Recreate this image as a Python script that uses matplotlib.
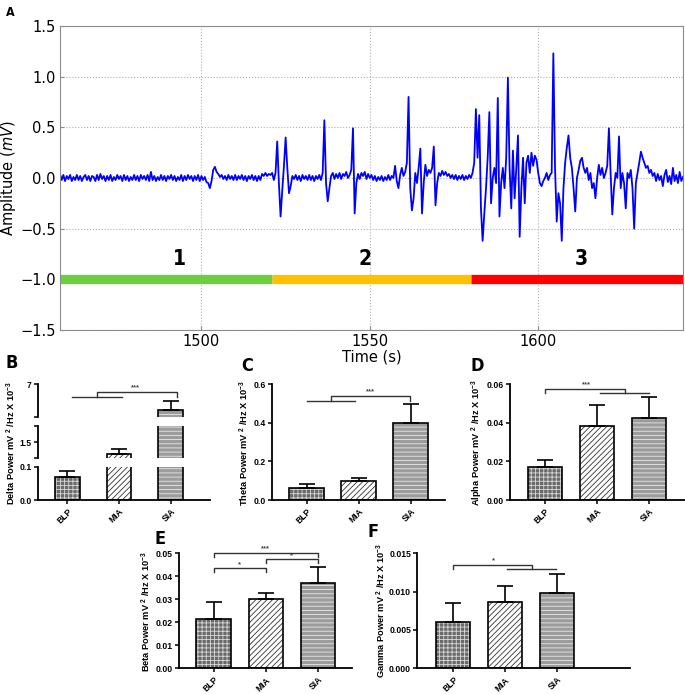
import matplotlib
matplotlib.use('Agg')
import matplotlib.pyplot as plt
import matplotlib.ticker as mticker
import numpy as np

W, H = 685, 694

plt.rcParams['font.family'] = ['Liberation Sans', 'DejaVu Sans']
plt.rcParams['mathtext.fontset'] = 'custom'
plt.rcParams['mathtext.rm'] = 'Liberation Sans'
plt.rcParams['mathtext.bf'] = 'Liberation Sans:bold'
plt.rcParams['mathtext.it'] = 'DejaVu Sans:italic'
plt.rcParams['hatch.linewidth'] = 0.6

# ---------------- Panel A: trace, one value every 0.5 s from 1458 s
trace_start = 1458.0
trace_step = 0.5
amplitude_mv = [
    0.04, -0.02, 0.03, -0.03, 0.02, -0.01, 0.03, -0.03, 0.01, -0.02, 0.03, -0.02, 0.02, -0.03, 0.01, 0.03, -0.02, 0.02, -0.03, 0.02,
    0.01, -0.03, 0.03, -0.02, 0.04, -0.01, 0.02, -0.03, 0.02, -0.02, 0.03, -0.03, 0.01, -0.02, 0.03, -0.01, 0.02, -0.03, 0.03, -0.02,
    0.02, -0.03, 0.01, -0.02, 0.03, -0.02, 0.02, -0.03, 0.03, -0.01, 0.02, -0.02, 0.03, -0.03, 0.06, -0.02, 0.02, -0.03, 0.01, -0.02,
    0.03, -0.02, 0.02, -0.03, 0.02, -0.01, 0.03, -0.02, 0.02, -0.03, 0.01, -0.02, 0.03, -0.03, 0.02, -0.02, 0.03, -0.01, 0.02, -0.03,
    0.02, -0.02, 0.03, -0.03, 0.02, -0.02, 0.01, -0.04, -0.05, -0.10, -0.03, 0.08, 0.11, 0.06, 0.04, 0.01, 0.03, -0.01, 0.02, -0.02,
    0.03, -0.01, 0.02, -0.02, 0.03, -0.02, 0.02, -0.01, 0.03, -0.02, 0.02, -0.03, 0.02, -0.01, 0.03, -0.02, 0.02, -0.03, 0.02, -0.02,
    0.04, 0.02, 0.05, 0.02, 0.04, 0.03, 0.05, -0.02, 0.05, 0.36, -0.05, -0.38, -0.12, 0.12, 0.40, 0.10, -0.15, -0.08, 0.02, -0.01,
    0.03, -0.02, 0.02, -0.03, 0.03, -0.01, 0.02, -0.02, 0.03, -0.02, 0.02, -0.03, 0.02, -0.01, 0.03, -0.02, 0.05, 0.57, -0.05, -0.23,
    -0.10, 0.02, 0.05, -0.01, 0.04, 0.00, 0.05, -0.01, 0.04, 0.02, 0.06, 0.00, 0.03, 0.08, 0.49, -0.35, -0.05, 0.04, -0.01, 0.05,
    0.02, 0.06, -0.01, 0.04, 0.00, 0.03, -0.02, 0.02, -0.03, 0.01, -0.02, 0.02, -0.03, 0.01, -0.02, 0.03, -0.02, 0.02, 0.00, 0.12,
    -0.03, -0.10, 0.03, 0.10, 0.02, 0.06, 0.15, 0.80, -0.10, -0.32, -0.20, 0.05, -0.05, 0.10, 0.29, -0.35, -0.05, 0.13, 0.02, 0.08,
    0.05, 0.10, 0.31, -0.27, -0.05, 0.05, 0.02, 0.07, 0.03, 0.06, 0.02, 0.04, 0.00, 0.03, -0.01, 0.03, -0.02, 0.02, -0.01, 0.03,
    -0.02, 0.02, -0.01, 0.03, 0.00, 0.05, 0.15, 0.68, 0.20, 0.62, -0.30, -0.62, -0.35, -0.10, 0.20, 0.65, -0.25, 0.00, 0.10, -0.05,
    0.79, -0.38, -0.05, 0.10, -0.10, 0.20, 0.99, 0.10, -0.30, 0.27, -0.20, 0.10, 0.42, -0.58, -0.10, 0.20, -0.25, 0.15, 0.22, 0.05,
    0.25, 0.12, 0.22, 0.18, 0.05, -0.05, -0.08, -0.03, 0.00, 0.05, -0.02, 0.03, 0.05, 1.23, 0.10, -0.43, -0.15, -0.25, -0.62, -0.10,
    0.15, 0.30, 0.42, 0.20, 0.10, -0.10, -0.33, 0.00, 0.08, 0.17, 0.20, 0.10, 0.05, 0.10, -0.02, 0.05, -0.10, -0.05, -0.20, 0.00,
    0.13, 0.03, 0.10, 0.00, 0.05, 0.12, 0.49, 0.05, -0.36, -0.10, 0.05, 0.00, 0.41, -0.10, 0.05, -0.05, -0.30, 0.05, 0.00, 0.08,
    -0.10, -0.50, -0.05, 0.05, 0.15, 0.26, 0.20, 0.15, 0.10, 0.12, 0.05, 0.08, 0.02, 0.05, -0.03, 0.04, -0.02, 0.02, -0.08, 0.03,
    0.08, -0.04, 0.02, -0.06, 0.10, -0.03, 0.03, -0.05, 0.06, -0.03, 0.01,
]
stage_edges = [1458, 1521, 1580, 1643]
stage_colors = ['#6ccf3e', '#ffc000', '#ff0000']
stage_names = ['1', '2', '3']
stage_label_x = [1493.4, 1548.5, 1612.9]
stage_level = -1.0
stage_label_y = -0.8

# ---------------- Panels B-F: mean and upper error
groups = ['BLP', 'MIA', 'SIA']
delta_mean = [0.07, 1.12, 5.42]
delta_err = [0.019, 0.15, 0.57]
theta_mean = [0.061, 0.097, 0.401]
theta_err = [0.020, 0.019, 0.098]
alpha_mean = [0.0171, 0.0384, 0.0425]
alpha_err = [0.0038, 0.0109, 0.0108]
beta_mean = [0.0216, 0.0300, 0.0372]
beta_err = [0.0071, 0.0027, 0.0068]
gamma_mean = [0.0060, 0.00869, 0.00978]
gamma_err = [0.00256, 0.00204, 0.00248]

bar_face = ['#6a6a6a', 'white', '#9c9c9c']
bar_hatch_col = ['#d8d8d8', '#333333', '#e8e8e8']
bar_hatch = ['++++', '//////', '----']

NARROW = dict(family='DejaVu Sans', fontstretch='condensed', fontweight='bold')

fig = plt.figure(figsize=(W / 100, H / 100), dpi=100)


def px_axes(left, right, bottom, top):
    return fig.add_axes([left / W, 1 - bottom / H, (right - left) / W, (bottom - top) / H])


# ---------------- Panel A
axA = px_axes(60, 683, 330, 26)
time_s = trace_start + trace_step * np.arange(len(amplitude_mv))
axA.plot(time_s, amplitude_mv, color='#0000ff', linewidth=1.3)
for i in range(3):
    axA.plot(stage_edges[i:i + 2], [stage_level, stage_level], color=stage_colors[i],
             linewidth=6.7, solid_capstyle='butt')
    axA.text(stage_label_x[i], stage_label_y, stage_names[i], ha='center', va='center',
             fontsize=15, **NARROW)
axA.set_xlim(stage_edges[0], stage_edges[-1])
axA.set_ylim(-1.5, 1.5)
axA.set_xticks([1500, 1550, 1600])
axA.set_yticks([-1.5, -1.0, -0.5, 0.0, 0.5, 1.0, 1.5])
axA.yaxis.set_major_formatter(mticker.FuncFormatter(lambda v, p: f'{v:.1f}'.replace('-', '\u2212')))
axA.grid(True, linestyle=':', color='#b0b0b0', linewidth=0.8)
for s in axA.spines.values():
    s.set_color('#8c8c8c')
axA.tick_params(direction='in', length=3, color='#8c8c8c', labelsize=10.5, pad=3)
for lab in axA.get_xticklabels() + axA.get_yticklabels():
    lab.set_family('DejaVu Sans')
axA.set_xlabel('Time (s)', fontsize=10.5, family='DejaVu Sans', labelpad=0)
fig.text(9 / W, 1 - 178 / H, 'Amplitude ($mV$)', rotation=90, ha='center', va='center',
         fontsize=10.5, family='DejaVu Sans')


# ---------------- bar panel helpers
def draw_bars(ax, mean, err, width):
    x = np.arange(len(groups))
    for i in range(len(groups)):
        ax.bar(x[i], mean[i], width, color=bar_face[i], edgecolor=bar_hatch_col[i],
               hatch=bar_hatch[i], linewidth=0, zorder=2)
    ax.bar(x, mean, width, fill=False, edgecolor='black', linewidth=1.2, zorder=3)
    ax.errorbar(x, mean, yerr=[np.zeros(len(x)), err], fmt='none', ecolor='black',
                elinewidth=1.2, capsize=6, capthick=1.2, zorder=4)


def style_ax(ax, xlim, show_x=True):
    ax.set_xlim(xlim)
    ax.spines['top'].set_visible(False)
    ax.spines['right'].set_visible(False)
    ax.spines['left'].set_linewidth(1.3)
    ax.spines['bottom'].set_linewidth(1.3)
    ax.tick_params(axis='y', length=3, width=1.1, labelsize=6.2, pad=1.5)
    ax.tick_params(axis='x', length=3, width=1.1, labelsize=6.2, pad=2)
    ax.set_xticks(range(len(groups)))
    if show_x:
        ax.set_xticklabels(groups, rotation=45, ha='right', rotation_mode='anchor', fontweight='bold')
    else:
        ax.spines['bottom'].set_visible(False)
        ax.tick_params(axis='x', length=0, labelbottom=False)
    ax.patch.set_alpha(0)


def bold_y(ax):
    for lab in ax.get_yticklabels():
        lab.set_fontweight('bold')


def bracket(ax, x0, x1, ytop, ybot0, ybot1):
    ax.plot([x0, x0, x1, x1], [ybot0, ytop, ytop, ybot1], color='#333333', linewidth=1.0,
            clip_on=False, zorder=5)


def hline(ax, x0, x1, y):
    ax.plot([x0, x1], [y, y], color='#333333', linewidth=1.0, clip_on=False, zorder=5)


def stars(ax, x, y, s):
    ax.text(x, y, s, ha='center', va='bottom', fontsize=5.5, color='#444444', fontweight='bold')


def ylab(xp, yp, text):
    fig.text(xp / W, 1 - yp / H, text, rotation=90, ha='center', va='center',
             fontsize=6.7, fontweight='bold')


def letter(xp, yp, s, size=13):
    fig.text(xp / W, 1 - yp / H, s, ha='center', va='center', fontsize=size, **NARROW)


# ---------------- Panel B (broken axis)
xlimB = (-0.57, 2.76)
wB = 0.48
axB1 = px_axes(38, 210, 500, 467)
axB2 = px_axes(38, 210, 458, 426)
axB3 = px_axes(38, 210, 417, 384)
for ax, lim, ticks, labels in [
        (axB1, (0, 0.1), [0.0, 0.1], ['0.0', '0.1']),
        (axB2, (1.0, 2.0), [1.0, 1.5, 2.0], ['', '1.5', '']),
        (axB3, (5.0, 7.0), [5.0, 7.0], ['', '7'])]:
    draw_bars(ax, delta_mean, delta_err, wB)
    style_ax(ax, xlimB, show_x=(ax is axB1))
    ax.set_ylim(lim)
    ax.set_yticks(ticks)
    ax.set_yticklabels(labels)
    bold_y(ax)
hline(axB3, 0.087, 1.05, 6.23)
bracket(axB3, 0.57, 2.12, 6.53, 6.23, 6.23)
stars(axB3, 1.31, 6.58, '***')
ylab(11, 443, r'Delta Power mV $^{\mathbf{2}}$ /Hz X 10$^{\mathbf{-3}}$')
letter(12, 363, 'B')

# ---------------- Panel C
axC = px_axes(271.7, 445, 500, 384.3)
draw_bars(axC, theta_mean, theta_err, 0.67)
style_ax(axC, (-0.67, 2.66))
axC.set_ylim(0, 0.6)
axC.set_yticks([0.0, 0.2, 0.4, 0.6])
axC.yaxis.set_major_formatter(mticker.FormatStrFormatter('%.1f'))
bold_y(axC)
hline(axC, 0.0, 0.93, 0.513)
bracket(axC, 0.47, 1.99, 0.541, 0.513, 0.513)
stars(axC, 1.22, 0.545, '***')
ylab(244, 443, r'Theta Power mV $^{\mathbf{2}}$ /Hz X 10$^{\mathbf{-3}}$')
letter(247, 366, 'C')

# ---------------- Panel D
axD = px_axes(510, 685, 500, 384.3)
draw_bars(axD, alpha_mean, alpha_err, 0.65)
style_ax(axD, (-0.67, 2.69))
axD.set_ylim(0, 0.06)
axD.set_yticks([0.0, 0.02, 0.04, 0.06])
axD.yaxis.set_major_formatter(mticker.FormatStrFormatter('%.2f'))
bold_y(axD)
bracket(axD, 0.01, 1.54, 0.0577, 0.0556, 0.0556)
hline(axD, 1.06, 2.0, 0.0556)
stars(axD, 0.8, 0.0580, '***')
ylab(477, 443, r'Alpha Power mV $^{\mathbf{2}}$ /Hz X 10$^{\mathbf{-3}}$')
letter(477, 366, 'D')

# ---------------- Panel E
axE = px_axes(179.3, 351.7, 668.3, 553.3)
draw_bars(axE, beta_mean, beta_err, 0.66)
style_ax(axE, (-0.66, 2.65))
axE.set_ylim(0, 0.05)
axE.set_yticks([0.0, 0.01, 0.02, 0.03, 0.04, 0.05])
axE.yaxis.set_major_formatter(mticker.FormatStrFormatter('%.2f'))
bold_y(axE)
bracket(axE, 0.0, 1.0, 0.0435, 0.0417, 0.0417)
stars(axE, 0.5, 0.0437, '*')
bracket(axE, 1.0, 2.0, 0.0474, 0.0457, 0.0457)
stars(axE, 1.5, 0.0476, '*')
bracket(axE, 0.0, 2.0, 0.0503, 0.0484, 0.0484)
stars(axE, 1.0, 0.0505, '***')
ylab(146, 611, r'Beta Power mV $^{\mathbf{2}}$ /Hz X 10$^{\mathbf{-3}}$')
letter(160, 539, 'E')

# ---------------- Panel F
axF = px_axes(417.3, 630, 668.3, 553.3)
draw_bars(axF, gamma_mean, gamma_err, 0.66)
style_ax(axF, (-0.69, 3.4))
axF.set_ylim(0, 0.015)
axF.set_yticks([0.0, 0.005, 0.010, 0.015])
axF.yaxis.set_major_formatter(mticker.FormatStrFormatter('%.3f'))
bold_y(axF)
bracket(axF, 0.0, 1.51, 0.01347, 0.01295, 0.01295)
hline(axF, 1.03, 1.97, 0.01295)
stars(axF, 0.77, 0.01352, '*')
ylab(381, 610, r'Gamma Power mV $^{\mathbf{2}}$ /Hz X 10$^{\mathbf{-3}}$')
letter(373, 532, 'F')

letter(10, 12, 'A', size=9)

fig.savefig('out.png', dpi=100)
